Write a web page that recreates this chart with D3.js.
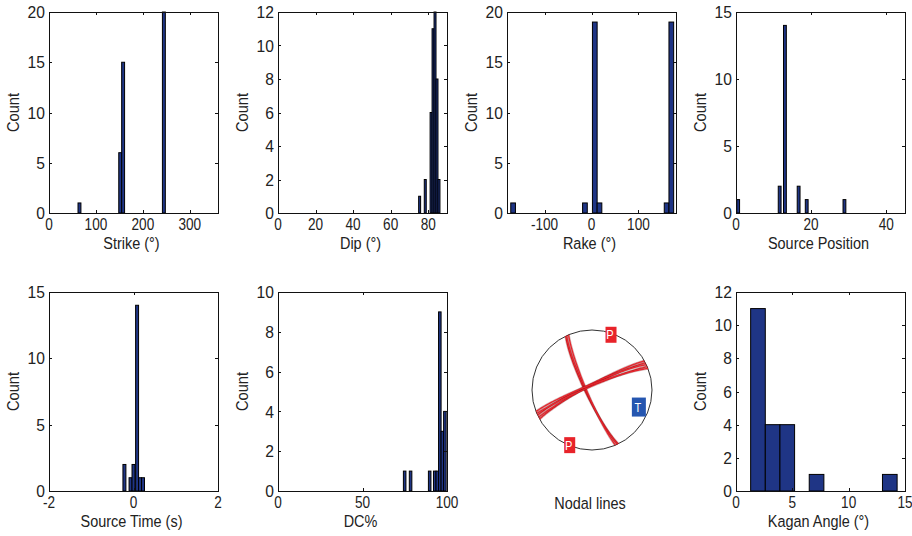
<!DOCTYPE html>
<html><head><meta charset="utf-8">
<script src="https://cdn.jsdelivr.net/npm/d3@7/dist/d3.min.js"></script>
<style>
body{margin:0;background:#fff}
svg{display:block}
text{font-family:"Liberation Sans",Arial,Helvetica,sans-serif;fill:#222}
</style>
</head><body>
<svg id="chart" width="912" height="536"></svg>
<script>
// ---------------- DATA ----------------
const strikeLo = [61.8, 148.6, 154.8, 241.6];
const strikeCounts = [1, 6, 15, 20];
const strikeBinWidth = 6.2;

const dipLo = [74.9, 77.9, 81.0, 82.05, 83.1, 84.15, 85.2];
const dipCounts = [1, 2, 6, 11, 12, 8, 2];
const dipBinWidth = 1.05;

const rakeLo = [-172, -19, 2, 12, 155, 165];
const rakeCounts = [1, 1, 19, 1, 1, 19];
const rakeBinWidth = 10;

const posLo = [0.2, 11.25, 12.65, 16.3, 18.45, 28.5];
const posCounts = [1, 2, 14, 2, 1, 1];
const posBinWidth = 0.75;

const timeLo = [-0.25, -0.105, -0.035, 0.05, 0.12, 0.19];
const timeCounts = [2, 1, 2, 14, 1, 1];
const timeBinWidth = 0.07;

const dcLo = [74.2, 77.7, 89.0, 92.0, 93.5, 95.0, 96.5, 98.0];
const dcCounts = [1, 1, 1, 1, 1, 9, 3, 4];
const dcBinWidth = 1.5;

const kaganLo = [1.3, 2.6, 3.9, 6.5, 13.0];
const kaganCounts = [11, 4, 4, 1, 1];
const kaganBinWidth = 1.3;

// nodal planes (strike, dip) of the solutions
const planeStrikes = [154, 155, 157, 241, 243, 245, 247, 249];
const planeDips    = [81,  82,  83,  83,  84,  82,  85,  83];
// P / T axes (trend, plunge)
const pTrends = [19, 202], pPlunges = [3, 1];
const tTrends = [110],     tPlunges = [18];

const strikeTicks = [0, 100, 200, 300], dipTicks = [0, 20, 40, 60, 80];
const rakeTicks = [-100, 0, 100], posTicks = [0, 20, 40];
const timeTicks = [-2, 0, 2], dcTicks = [0, 50, 100], kaganTicks = [0, 5, 10, 15];

// ---------------- LAYOUT ----------------
const svg = d3.select("#chart");
const W = 169, H1 = 201, H2 = 199;
const cols = [49, 278, 507, 736];
const rows = [12, 292];
const barFill = "#1f3585";

function txt(g, s, x, y, o) {
  o = o || {};
  const t = g.append("text")
    .attr("transform", `translate(${x},${y}) rotate(${o.rot||0}) scale(${o.sx||1},${o.sy||1})`)
    .attr("text-anchor", o.anchor || "middle")
    .attr("dy", "0.36em")
    .style("font-size", (o.size || 16) + "px")
    .text(s);
  return t;
}

const panels = [
  {c:0,r:0, xd:[0,360], yd:[0,20], xt:strikeTicks, yt:[0,5,10,15,20], lo:strikeLo, n:strikeCounts, bw:strikeBinWidth, xl:"Strike (°)"},
  {c:1,r:0, xd:[0,90], yd:[0,12], xt:dipTicks, yt:[0,2,4,6,8,10,12], lo:dipLo, n:dipCounts, bw:dipBinWidth, xl:"Dip (°)"},
  {c:2,r:0, xd:[-180,180], yd:[0,20], xt:rakeTicks, yt:[0,5,10,15,20], lo:rakeLo, n:rakeCounts, bw:rakeBinWidth, xl:"Rake (°)"},
  {c:3,r:0, xd:[0,45], yd:[0,15], xt:posTicks, yt:[0,5,10,15], lo:posLo, n:posCounts, bw:posBinWidth, xl:"Source Position"},
  {c:0,r:1, xd:[-2,2], yd:[0,15], xt:timeTicks, yt:[0,5,10,15], lo:timeLo, n:timeCounts, bw:timeBinWidth, xl:"Source Time (s)"},
  {c:1,r:1, xd:[0,100], yd:[0,10], xt:dcTicks, yt:[0,2,4,6,8,10], lo:dcLo, n:dcCounts, bw:dcBinWidth, xl:"DC%"},
  {c:3,r:1, xd:[0,15], yd:[0,12], xt:kaganTicks, yt:[0,2,4,6,8,10,12], lo:kaganLo, n:kaganCounts, bw:kaganBinWidth, xl:"Kagan Angle (°)"}
];

panels.forEach((p, i) => {
  const x0 = cols[p.c], y0 = rows[p.r], H = p.r === 0 ? H1 : H2;
  const xs = d3.scaleLinear().domain(p.xd).range([x0, x0 + W]);
  const ys = d3.scaleLinear().domain(p.yd).range([y0 + H, y0]);
  const g = svg.append("g");
  const cid = "clip" + i;
  g.append("clipPath").attr("id", cid).append("rect")
    .attr("x", x0).attr("y", y0 - 1).attr("width", W + 1).attr("height", H + 2);

  const bars = p.lo.map((lo, k) => ({lo, n: p.n[k]}));
  g.append("g").attr("clip-path", `url(#${cid})`).selectAll("rect").data(bars).join("rect")
    .attr("x", d => xs(d.lo))
    .attr("width", d => Math.max(0.5, xs(d.lo + p.bw) - xs(d.lo)))
    .attr("y", d => ys(d.n))
    .attr("height", d => ys(0) - ys(d.n))
    .attr("fill", barFill).attr("stroke", "#000").attr("stroke-width", 1);

  g.append("rect").attr("x", x0 + 0.5).attr("y", y0 + 0.5).attr("width", W).attr("height", H)
    .attr("fill", "none").attr("stroke", "#111").attr("stroke-width", 1);

  const tl = 3;
  p.xt.forEach(v => {
    const x = Math.round(xs(v)) + 0.5;
    g.append("line").attr("x1", x).attr("x2", x).attr("y1", y0 + H).attr("y2", y0 + H - tl).attr("stroke", "#111");
    g.append("line").attr("x1", x).attr("x2", x).attr("y1", y0).attr("y2", y0 + tl).attr("stroke", "#111");
    txt(g, String(v), xs(v), y0 + H + 11, {size: 16, sx: 0.85, sy: 1.05});
  });
  p.yt.forEach(v => {
    const y = Math.round(ys(v)) + 0.5;
    g.append("line").attr("x1", x0).attr("x2", x0 + tl).attr("y1", y).attr("y2", y).attr("stroke", "#111");
    g.append("line").attr("x1", x0 + W).attr("x2", x0 + W - tl).attr("y1", y).attr("y2", y).attr("stroke", "#111");
    txt(g, String(v), x0 - 4, ys(v), {size: 17, sx: 0.92, anchor: "end"});
  });

  txt(g, p.xl, x0 + W / 2 - 2, y0 + H + 30, {size: 17, sx: 0.85});
  txt(g, "Count", x0 - 36, y0 + H / 2, {size: 17, sx: 0.86, rot: -90});
});

// ---------------- STEREONET ----------------
const cx = 592, cy = 390, R = 60;
const sxS = d3.scaleLinear().domain([-1, 1]).range([cx - R, cx + R]);
const syS = d3.scaleLinear().domain([-1, 1]).range([cy + R, cy - R]);
const rad = Math.PI / 180;
function proj(trend, plunge) {
  const rr = Math.SQRT2 * Math.sin((90 - plunge) / 2 * rad);
  return [sxS(rr * Math.sin(trend * rad)), syS(rr * Math.cos(trend * rad))];
}
const sg = svg.append("g");
sg.append("circle").attr("cx", cx).attr("cy", cy).attr("r", R)
  .attr("fill", "none").attr("stroke", "#333").attr("stroke-width", 1);

const line = d3.line().curve(d3.curveCatmullRom);
planeStrikes.forEach((s, k) => {
  const d = planeDips[k];
  const pts = d3.range(0, 181, 3).map(t => {
    const sN = Math.cos(s * rad), sE = Math.sin(s * rad);
    const dd = (s + 90) * rad;
    const dN = Math.cos(dd) * Math.cos(d * rad), dE = Math.sin(dd) * Math.cos(d * rad), dD = Math.sin(d * rad);
    const c = Math.cos(t * rad), si = Math.sin(t * rad);
    const vN = c * sN + si * dN, vE = c * sE + si * dE, vD = si * dD;
    const pl = Math.asin(Math.min(1, vD)) / rad;
    const tr = Math.atan2(vE, vN) / rad;
    return proj(tr, pl);
  });
  sg.append("path").attr("d", line(pts)).attr("fill", "none")
    .attr("stroke", "#6a0c0c").attr("stroke-width", 2.6).attr("stroke-opacity", 0.3);
  sg.append("path").attr("d", line(pts)).attr("fill", "none")
    .attr("stroke", "#e8242c").attr("stroke-width", 1.3);
});

function marker(trend, plunge, color, label, w, h) {
  const [x, y] = proj(trend, plunge);
  sg.append("rect").attr("x", x - w / 2).attr("y", y - h / 2).attr("width", w).attr("height", h)
    .attr("fill", color);
  txt(sg, label, x - 1, y, {size: 13, sx: 0.85}).style("fill", "#fff");
}
pTrends.forEach((t, k) => marker(t, pPlunges[k], "#e8232a", "P", 11, 16));
tTrends.forEach((t, k) => marker(t, tPlunges[k], "#2556b0", "T", 14, 19));

txt(svg, "Nodal lines", 590, 503, {size: 17, sx: 0.85});
</script>
</body></html>
